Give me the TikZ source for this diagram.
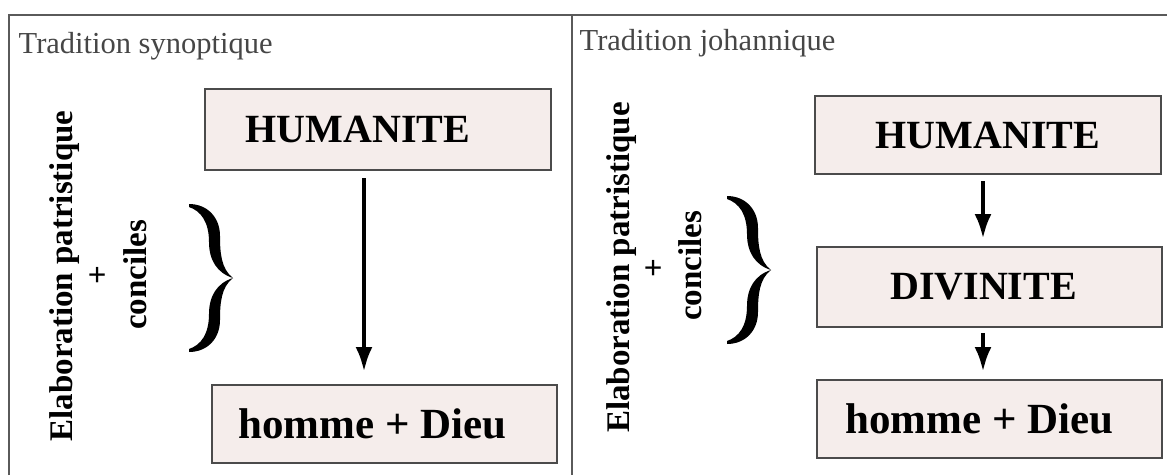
\documentclass[tikz,border=0pt]{standalone}
\usepackage{fontspec}
\setmainfont{Liberation Serif}
\usetikzlibrary{arrows.meta}
\definecolor{boxfill}{RGB}{245,237,235}
\definecolor{boxline}{RGB}{75,75,75}
\definecolor{frameline}{RGB}{90,90,90}
\definecolor{titlegray}{RGB}{70,70,70}
\newcommand\shifttext[2]{\hspace*{#1}#2\hspace*{-#1}}
\tikzset{
  pics/curlybrace/.style={code={
    \fill (-44,-74) .. controls (-26,-74) and (-13,-61) .. (-13,-42)
          .. controls (-13,-26) and (-12,-9) .. (0,0)
          .. controls (-16,-5) and (-24,-18) .. (-24,-36)
          .. controls (-24,-56) and (-32,-67) .. (-44,-71) -- cycle;
    \fill (-44,74) .. controls (-26,74) and (-13,61) .. (-13,42)
          .. controls (-13,26) and (-12,9) .. (0,0)
          .. controls (-16,5) and (-24,18) .. (-24,36)
          .. controls (-24,56) and (-32,67) .. (-44,71) -- cycle;
  }}
}
\begin{document}
\begin{tikzpicture}[x=1pt,y=-1pt,
  box/.style={draw=boxline, fill=boxfill, line width=2pt, inner sep=0pt,
              font=\bfseries\fontsize{40}{48}\selectfont},
  lowbox/.style={box, font=\bfseries\fontsize{43}{50}\selectfont},
  ttl/.style={anchor=base west, text=titlegray, inner sep=0pt,
              font=\fontsize{30.5}{36}\selectfont},
  vert/.style={rotate=90, inner sep=0pt, font=\bfseries\fontsize{33}{40}\selectfont},
  arr/.style={line width=4.5pt, -{Latex[length=25pt,width=17pt]}},
  frame/.style={draw=frameline, line width=1.8pt}
]
\useasboundingbox (0,0) rectangle (1167,475);

% frame
\draw[frame] (9,475) -- (9,15) -- (1167,15);
\draw[frame] (572,15) -- (572,475);

% left panel
\node[ttl] (t1) at (18.5,53) {Tradition synoptique};
\node[vert, anchor=base] (e1) at (72,276) {Elaboration patristique};
\node[vert] (p1) at (99,275) {+};
\node[vert, anchor=base] (c1) at (146,275) {conciles};
\pic at (233,278) {curlybrace};
\node[box, minimum width=346pt, minimum height=81pt] (h1) at (378,129.5) {\shifttext{-20pt}{HUMANITE}};
\node[lowbox, minimum width=345pt, minimum height=78pt] (d1) at (384.5,424) {\shifttext{-12pt}{homme + Dieu}};
\coordinate (a1) at (364,0);
\draw[arr, shorten <=7pt, shorten >=12pt] (h1.south -| a1) -- (d1.north -| a1);

% right panel
\node[ttl] (t2) at (579.5,50) {Tradition johannique};
\node[vert, anchor=base] (e2) at (629,267.5) {Elaboration patristique};
\node[vert] (p2) at (655,268) {+};
\node[vert, anchor=base] (c2) at (701,266) {conciles};
\pic at (771,270) {curlybrace};
\node[box, minimum width=346pt, minimum height=78pt] (h2) at (988,135) {HUMANITE};
\node[box, minimum width=345pt, minimum height=80pt] (v2) at (989.5,287) {\shifttext{-6pt}{DIVINITE}};
\node[lowbox, minimum width=345pt, minimum height=78pt] (d2) at (989.5,419) {\shifttext{-10pt}{homme + Dieu}};
\coordinate (a2) at (983,0);
\draw[arr, shorten <=6pt, shorten >=7pt] (h2.south -| a2) -- (v2.north -| a2);
\draw[arr, shorten <=5pt, shorten >=7pt] (v2.south -| a2) -- (d2.north -| a2);
\end{tikzpicture}
\end{document}
